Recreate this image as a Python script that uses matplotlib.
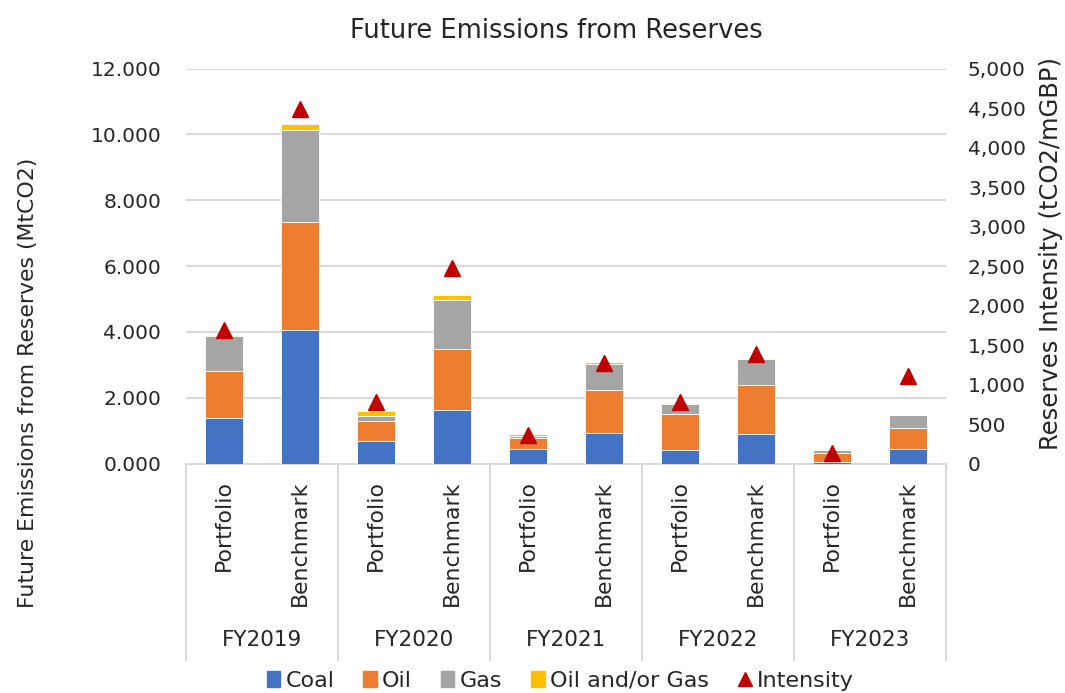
import matplotlib
matplotlib.use("Agg")
import matplotlib.pyplot as plt
import matplotlib.transforms as mtransforms
from matplotlib.patches import Patch
from matplotlib.lines import Line2D
import numpy as np

years = ["FY2019", "FY2020", "FY2021", "FY2022", "FY2023"]
kinds = ["Portfolio", "Benchmark"]

# stacked emissions per bar (Portfolio, Benchmark for each year)
coal = [1.39, 4.07, 0.70, 1.63, 0.43, 0.92, 0.41, 0.91, 0.06, 0.43]
oil = [1.43, 3.27, 0.60, 1.84, 0.35, 1.33, 1.11, 1.49, 0.27, 0.66]
gas = [1.06, 2.80, 0.15, 1.49, 0.06, 0.79, 0.30, 0.79, 0.08, 0.38]
oil_gas = [0.02, 0.17, 0.15, 0.16, 0.05, 0.04, 0.02, 0.02, 0.00, 0.00]
intensity = [1690, 4490, 780, 2480, 360, 1275, 780, 1385, 140, 1110]

plt.rcParams['font.family'] = ['DejaVu Sans']
txt = "#262626"
fig = plt.figure(figsize=(10.65, 6.93), dpi=100)
ax = fig.add_axes([0.175, 0.331, 0.713, 0.570])
ax2 = ax.twinx()

x = np.arange(len(coal))
w = 0.5
colors = ["#4472C4", "#ED7D31", "#A5A5A5", "#FFC000"]
bottom = np.zeros(len(coal))
for vals, c in zip([coal, oil, gas, oil_gas], colors):
    ax.bar(x, vals, w, bottom=bottom, color=c, edgecolor="white", linewidth=0.6, zorder=3)
    bottom += np.array(vals)

ax2.plot(x, intensity, linestyle="none", marker="^", markersize=11, color="#C00000", zorder=4)

ax.set_xlim(-0.5, 9.5)
ax.set_ylim(0, 12)
ax2.set_ylim(0, 5000)
ax.set_yticks(np.arange(0, 13, 2))
ax.set_yticklabels([f"{v:.3f}" for v in np.arange(0, 13, 2)])
ax2.set_yticks(np.arange(0, 5001, 500))
ax2.set_yticklabels([f"{v:,}" for v in range(0, 5001, 500)])
ax.yaxis.grid(True, color="#d9d9d9", linewidth=1.5, zorder=0)
ax.set_axisbelow(True)

for a in (ax, ax2):
    for s in a.spines.values():
        s.set_visible(False)
    a.tick_params(axis="y", length=0, labelsize=14.5, colors=txt)
ax.tick_params(axis="y", pad=18)
ax2.tick_params(axis="y", pad=16)
ax.spines["bottom"].set_visible(True)
ax.spines["bottom"].set_color("#d9d9d9")
ax.spines["bottom"].set_linewidth(1.5)

ax.set_xticks(x)
ax.set_xticklabels(kinds * len(years), rotation=90, va="top", fontsize=15.8, color=txt)
ax.tick_params(axis="x", length=0, pad=12)

trans = mtransforms.blended_transform_factory(ax.transData, ax.transAxes)
for b in np.arange(-0.5, 10, 2):
    ax.plot([b, b], [0, -0.497], transform=trans, color="#d9d9d9", linewidth=1.5, clip_on=False)
for i, yr in enumerate(years):
    ax.text(2 * i + 0.5, -0.447, yr, transform=trans, ha="center", va="center",
            fontsize=15.5, color=txt)

fig.text(0.522, 0.955, "Future Emissions from Reserves", ha="center", va="center",
         fontsize=18.5, color=txt)
fig.text(0.026, 0.447, "Future Emissions from Reserves (MtCO2)", rotation=90,
         ha="center", va="center", fontsize=15.8, color=txt)
fig.text(0.987, 0.634, "Reserves Intensity (tCO2/mGBP)", rotation=90,
         ha="center", va="center", fontsize=17.5, color=txt)

handles = [Patch(color=c) for c in colors] + [
    Line2D([], [], linestyle="none", marker="^", color="#C00000", markersize=10)]
fig.legend(handles, ["Coal", "Oil", "Gas", "Oil and/or Gas", "Intensity"],
           loc="center", bbox_to_anchor=(0.526, 0.018), ncol=5, frameon=False,
           fontsize=16, handlelength=0.6, handleheight=0.7, handletextpad=0.25,
           columnspacing=1.3, labelcolor=txt, borderpad=0)

fig.savefig("out.png", dpi=100)
